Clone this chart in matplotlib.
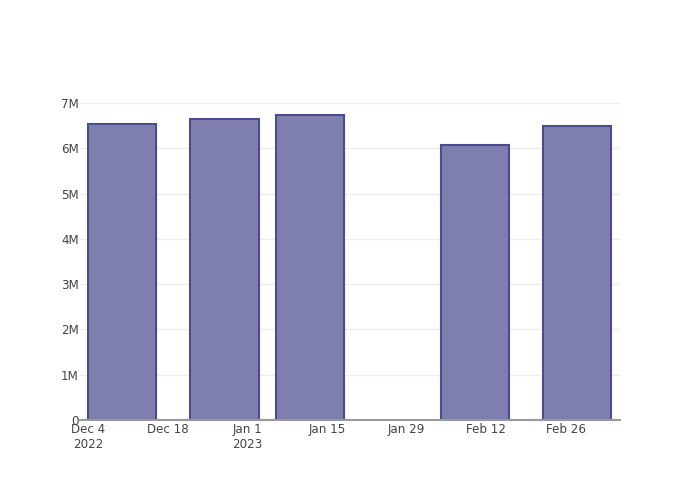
import pandas as pd
import matplotlib.pyplot as plt
import matplotlib.dates as mdates
from matplotlib.ticker import FuncFormatter

# bar data (weekly-ish totals)
dates = pd.to_datetime(['2022-12-10', '2022-12-28', '2023-01-12', '2023-02-10', '2023-02-28'])
values = [6.53e6, 6.66e6, 6.73e6, 6.08e6, 6.50e6]

tick_dates = pd.to_datetime(['2022-12-04', '2022-12-18', '2023-01-01', '2023-01-15',
                             '2023-01-29', '2023-02-12', '2023-02-26'])
tick_labels = ['Dec 4\n2022', 'Dec 18', 'Jan 1\n2023', 'Jan 15', 'Jan 29', 'Feb 12', 'Feb 26']

plt.rcParams['font.family'] = ['DejaVu Sans']

fig = plt.figure(figsize=(7, 5), dpi=100)
ax = fig.add_axes([80 / 700, 80 / 500, 540 / 700, 320 / 500])

ax.bar(dates, values, width=12, color='#7f7faf', edgecolor='#4b4b8e', linewidth=1.5, zorder=3)

ax.set_xlim(pd.Timestamp('2022-12-04') - pd.Timedelta(days=1.4),
            pd.Timestamp('2022-12-04') + pd.Timedelta(days=93.5))
ax.set_ylim(0, 7.07e6)

ax.set_xticks(tick_dates)
ax.set_xticklabels(tick_labels, multialignment='center')
ax.set_yticks([i * 1e6 for i in range(8)])
ax.yaxis.set_major_formatter(FuncFormatter(lambda v, p: '0' if v == 0 else f'{int(v / 1e6)}M'))

ax.tick_params(length=0, labelsize=8.6, colors='#444444')
ax.tick_params(axis='x', pad=2.5)
ax.tick_params(axis='y', pad=1)

ax.grid(axis='y', color='#eeeeee', linewidth=1, zorder=0)
for s in ['top', 'right', 'left']:
    ax.spines[s].set_visible(False)
ax.spines['bottom'].set_color('#999999')
ax.spines['bottom'].set_linewidth(1.5)
ax.spines['bottom'].set_zorder(4)

fig.savefig('out.png', dpi=100)
